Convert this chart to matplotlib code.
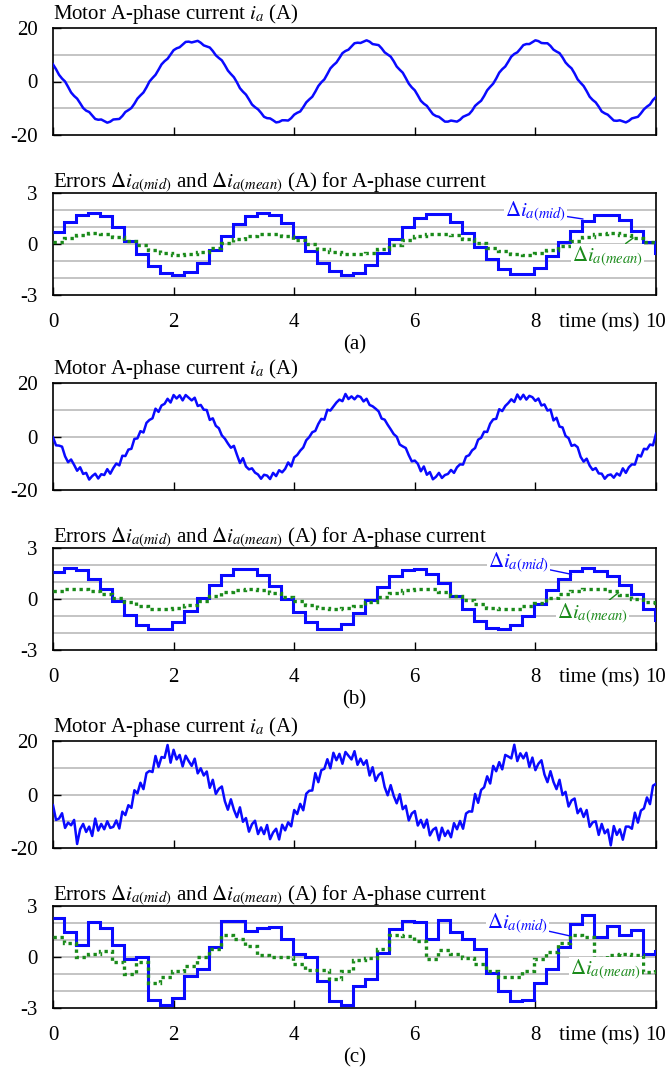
import numpy as np
import matplotlib
matplotlib.use('Agg')
import matplotlib.pyplot as plt

# corriente de fase A (A), una muestra cada 0.05 ms de 0 a 10 ms
corriente_a = [
    6.4, 4.6, 2.5, 1.1, 0.0, -2.0, -4.1, -5.4, -6.4, -8.1,
    -9.9, -10.9, -11.4, -12.7, -14.0, -14.3, -14.2, -14.8, -15.4, -15.0,
    -14.2, -14.1, -14.0, -12.9, -11.4, -10.7, -9.9, -8.3, -6.4, -5.2,
    -4.1, -2.2, 0.0, 1.3, 2.5, 4.4, 6.4, 7.6, 8.5, 10.1,
    11.7, 12.4, 12.8, 13.8, 14.8, 14.9, 14.6, 14.9, 15.2, 14.5,
    13.5, 13.1, 12.7, 11.4, 9.8, 8.8, 7.9, 6.1, 4.1, 2.8,
    1.6, -0.3, -2.5, -3.8, -4.9, -6.7, -8.6, -9.6, -10.4, -11.7,
    -13.2, -13.7, -13.8, -14.5, -15.3, -15.1, -14.5, -14.5, -14.6, -13.7,
    -12.4, -11.7, -11.2, -9.6, -7.8, -6.7, -5.7, -3.8, -1.7, -0.3,
    0.8, 2.8, 4.9, 6.1, 7.1, 8.8, 10.6, 11.4, 11.9, 13.1,
    14.3, 14.5, 14.4, 14.9, 15.4, 14.9, 14.0, 13.8, 13.6, 12.4,
    10.9, 10.1, 9.3, 7.6, 5.6, 4.4, 3.3, 1.3, -0.8, -2.2,
    -3.3, -5.2, -7.2, -8.3, -9.1, -10.7, -12.2, -12.9, -13.2, -14.1,
    -15.0, -15.0, -14.6, -14.8, -15.0, -14.3, -13.2, -12.7, -12.2, -10.9,
    -9.1, -8.1, -7.2, -5.4, -3.3, -2.0, -0.8, 1.1, 3.3, 4.6,
    5.6, 7.4, 9.3, 10.3, 10.9, 12.2, 13.6, 14.0, 14.0, 14.7,
    15.4, 15.1, 14.4, 14.3, 14.3, 13.3, 11.9, 11.2, 10.6, 9.0,
    7.1, 5.9, 4.9, 3.0, 0.8, -0.5, -1.7, -3.6, -5.7, -6.9,
    -7.8, -9.4, -11.2, -11.9, -12.4, -13.5, -14.6, -14.7, -14.5, -14.9,
    -15.3, -14.7, -13.8, -13.5, -13.2, -11.9, -10.4, -9.4, -8.6, -6.9,
    -5.8]

corriente_b = [
    -0.3, -3.3, -3.4, -3.8, -7.4, -9.6, -8.6, -10.6, -12.8, -11.5,
    -14.0, -13.6, -16.1, -14.8, -13.9, -15.7, -14.1, -14.4, -12.2, -13.9,
    -11.8, -10.1, -10.8, -7.2, -7.3, -4.9, -4.6, -0.9, -0.7, 2.0,
    1.5, 5.1, 6.2, 6.8, 10.4, 9.2, 11.6, 12.2, 14.1, 12.7,
    15.5, 14.2, 15.4, 13.5, 15.5, 14.5, 13.5, 14.5, 11.4, 11.8,
    10.0, 9.9, 6.2, 6.8, 4.0, 3.1, 0.4,
    -0.8, -2.6, -4.2, -3.5, -6.8, -9.9, -8.1, -11.2, -12.3, -11.9,
    -13.5, -14.2, -15.8, -14.3, -14.6, -15.9, -13.6, -14.8, -12.6, -13.4,
    -12.1, -9.7, -11.2, -7.8, -6.9, -5.3, -4.1, -1.4, -0.2, 1.6,
    2.1, 4.7, 6.6, 6.3, 10.0, 9.7, 11.2, 12.7, 13.8, 13.2,
    15.9, 14.0, 15.0, 13.9, 15.2, 14.8, 13.1, 14.1, 11.8, 11.3,
    10.4, 9.4, 6.7, 6.3, 4.4, 2.7, 0.9,
    -0.1, -3.0, -3.7, -4.3, -7.0, -9.3, -9.0, -10.2, -13.0, -11.2,
    -14.3, -13.3, -16.0, -15.1, -13.6, -15.5, -14.4, -14.0, -12.5, -13.6,
    -11.5, -10.4, -10.5, -7.5, -7.0, -5.2, -4.3, -1.2, -0.5, 1.8,
    1.7, 4.8, 6.4, 6.6, 10.2, 9.5, 11.4, 12.5, 13.9, 12.9,
    15.7, 13.9, 15.6, 13.8, 15.2, 14.7, 13.3, 14.2, 11.6, 12.0,
    9.7, 10.1, 6.0, 7.0, 3.7, 3.4, 0.2,
    -0.6, -3.5, -3.1, -4.0, -7.6, -9.4, -8.3, -10.9, -12.5, -11.8,
    -13.8, -13.9, -15.8, -14.5, -14.2, -15.4, -13.8, -14.6, -11.9, -13.6,
    -11.5, -10.4, -10.5, -6.9, -7.5, -4.6, -4.8, -3.0, -3.3, 1.0]

corriente_c = [
    -4.0, -9.5, -9.0, -7.0, -12.5, -10.5, -11.5, -9.5, -18.5, -13.0,
    -11.0, -14.0, -12.0, -15.5, -9.0, -13.5, -11.0, -13.0, -10.0, -12.5,
    -12.1, -9.7, -12.7, -6.4, -7.7, -4.0, -5.0, 1.6, 0.4, 4.4,
    2.0, 8.0, 8.8, 8.4, 14.4, 10.3, 14.0, 13.7, 18.5, 11.9,
    16.7, 13.1, 14.8, 10.5, 14.5, 12.5, 10.7, 13.4, 7.9, 9.8,
    7.1, 8.6, 2.5, 5.5, 0.2, 2.1, 3.0, -2.5, -5.7, -1.8,
    -5.7, -8.5, -4.8, -10.2, -8.8, -13.9, -11.1, -9.8, -14.8, -12.3,
    -14.8, -11.4, -16.7, -14.2, -12.8, -16.8, -11.3, -13.4, -10.4, -11.9,
    -5.8, -7.3, -3.5, -5.9, 0.3, 1.4, 1.5, 8.0, 4.6, 9.1,
    9.6, 13.2, 9.8, 15.6, 12.8, 15.2, 11.5, 15.9, 14.5, 13.1,
    16.2, 11.1, 13.4, 11.1, 12.8, 7.1, 10.2, 5.1, 7.3, 8.2,
    2.8, -0.3, 3.5, -0.5, -3.3, 0.1, -5.5, -4.2, -9.7, -7.1,
    -6.2, -11.6, -9.5, -12.4, -9.4, -15.3, -13.2, -12.4, -17.1, -12.4,
    -15.5, -13.5, -16.0, -10.7, -13.0, -9.9, -12.8, -7.1, -6.3, -6.4,
    0.2, -3.1, 1.7, 2.7, 6.8, 4.1, 10.7, 8.7, 12.1, 9.4,
    14.8, 14.2, 13.5, 18.6, 12.5, 15.4, 13.5, 15.6, 10.3, 13.8,
    9.1, 11.5, 12.8, 7.5, 4.6, 8.7, 4.7, 2.0, 5.5, -0.2,
    1.0, -4.5, -2.2, -1.5, -7.0, -5.3, -8.4, -5.8, -12.1, -10.4,
    -10.0, -15.1, -11.0, -14.5, -13.1, -19.0, -11.8, -15.1, -13.0, -16.9,
    -12.0, -12.0, -12.8, -6.8, -10.5, -6.0, -5.2, -1.1, -3.6, 3.3,
    4.0]

# errores por escalones (A); primer escalon 0-0.18 ms, luego cada 0.2 ms
dmid_a = [
    0.70, 1.32, 1.70, 1.80, 1.62, 1.00, 0.20, -0.58, -1.28, -1.72,
    -1.80, -1.62, -1.10, -0.35, 0.45, 1.15, 1.62, 1.80, 1.72, 1.25,
    0.42, -0.40, -1.10, -1.60, -1.80, -1.70, -1.25, -0.52, 0.28, 1.00,
    1.55, 1.78, 1.75, 1.30, 0.62, -0.15, -0.90, -1.48, -1.78, -1.78,
    -1.40, -0.72, 0.10, 0.77, 1.35, 1.73, 1.73, 1.40, 0.78, 0.12,
    -0.50]
dmean_a = [
    0.12, 0.36, 0.54, 0.62, 0.58, 0.43, 0.19, -0.08, -0.33, -0.52,
    -0.62, -0.59, -0.45, -0.23, 0.04, 0.30, 0.50, 0.61, 0.60, 0.47,
    0.26, -0.01, -0.27, -0.48, -0.60, -0.61, -0.50, -0.29, -0.03, 0.24,
    0.46, 0.59, 0.61, 0.52, 0.32, 0.06, -0.21, -0.44, -0.58, -0.62,
    -0.53, -0.35, -0.10, 0.18, 0.41, 0.57, 0.62, 0.55, 0.38, 0.13,
    0.05]
dmid_b = [
    1.60, 1.80, 1.70, 1.15, 0.60, -0.10, -0.92, -1.50, -1.78, -1.74,
    -1.35, -0.72, 0.05, 0.80, 1.42, 1.75, 1.76, 1.40, 0.78, 0.02,
    -0.78, -1.38, -1.74, -1.78, -1.45, -0.85, -0.08, 0.70, 1.34, 1.70,
    1.78, 1.50, 0.92, 0.18, -0.60, -1.27, -1.68, -1.79, -1.55, -1.02,
    -0.27, 0.51, 1.20, 1.66, 1.80, 1.65, 1.35, 0.85, 0.30, -0.60,
    -1.25]
dmean_b = [
    0.50, 0.57, 0.59, 0.50, 0.31, 0.06, -0.20, -0.42, -0.56, -0.60,
    -0.52, -0.34, -0.09, 0.17, 0.40, 0.55, 0.60, 0.53, 0.36, 0.12,
    -0.14, -0.38, -0.54, -0.60, -0.55, -0.39, -0.16, 0.11, 0.35, 0.52,
    0.60, 0.56, 0.41, 0.19, -0.07, -0.32, -0.51, -0.60, -0.57, -0.44,
    -0.22, 0.04, 0.29, 0.49, 0.59, 0.58, 0.46, 0.25, 0.02, -0.20,
    -0.25]
dmid_c = [
    2.30, 1.50, 0.72, 2.08, 1.73, 0.72, -0.10, 0.00, -2.50, -2.80,
    -2.40, -1.10, -0.70, 0.60, 2.10, 2.10, 1.55, 1.70, 1.75, 1.05,
    0.20, 0.00, -1.40, -2.60, -2.85, -1.70, -1.30, 0.25, 1.65, 2.10,
    2.05, 1.05, 2.20, 1.45, 1.05, 0.45, -0.95, -2.00, -2.60, -2.55,
    -1.50, -0.70, 0.60, 1.95, 2.45, 1.20, 1.85, 1.30, 1.60, 0.20,
    0.35]
dmean_c = [
    1.15, 0.85, 0.00, 0.20, 0.35, -0.30, -1.00, -0.30, -1.50, -1.15,
    -0.80, -0.50, 0.00, 0.45, 1.30, 1.05, 0.65, 0.10, 0.00, 0.00,
    -0.40, -0.75, -0.75, -1.30, -0.80, -0.20, -0.05, 0.45, 1.30, 1.25,
    0.95, -0.10, 0.40, 0.20, -0.05, -0.40, -0.80, -1.20, -1.20, -0.80,
    -0.10, 0.30, 0.85, 1.30, 1.15, -0.05, 0.10, 0.15, 0.10, -0.90,
    -0.60]

ticks_tiempo = [0, 2, 4, 6, 8, 10]
etiquetas_tiempo = ['0', '2', '4', '6', '8', '10']
ticks_corriente = [-20, 0, 20]
ticks_error = [-3, 0, 3]
rejilla_corriente = [-10, 0, 10]
rejilla_error = [-2, -1, 0, 1, 2]
etiquetas_panel = ['(a)', '(b)', '(c)']
titulo_corriente = r'Motor A-phase current $i_a$ (A)'
titulo_error = r'Errors $\Delta i_{a(mid)}$ and $\Delta i_{a(mean)}$ (A) for A-phase current'
texto_mid = r'$\Delta i_{a(mid)}$'
texto_mean = r'$\Delta i_{a(mean)}$'

AZUL = '#0a0aff'
VERDE = '#1a8a1a'
GRIS = '#c4c4c4'
TAM = 15

# geometria en pixeles de la imagen (665 x 1068)
ANCHO, ALTO = 665.0, 1068.0
X_IZQ, X_DER = 53.0, 656.0


def Fn_caja(fig, y_arriba, y_abajo):
    return fig.add_axes([X_IZQ / ANCHO, 1 - y_abajo / ALTO,
                         (X_DER - X_IZQ) / ANCHO, (y_abajo - y_arriba) / ALTO])


def Fn_ejes(ax, ylim, yticks, rejilla):
    for y in rejilla:
        ax.axhline(y, color=GRIS, lw=1.4, zorder=1)
    ax.set_xlim(0, 10)
    ax.set_ylim(*ylim)
    ax.set_xticks(ticks_tiempo)
    ax.set_yticks(yticks)
    ax.set_yticklabels([str(v) for v in yticks])
    ax.tick_params(axis='both', direction='in', length=6, width=1.0,
                   labelsize=TAM, color='black')
    ax.tick_params(axis='y', pad=11)
    for lado in ax.spines.values():
        lado.set_linewidth(1.2)


def Fn_panel_corriente(ax, corriente):
    t = np.arange(len(corriente)) * 0.05
    Fn_ejes(ax, (-20, 20), ticks_corriente, rejilla_corriente)
    ax.plot(t, corriente, color=AZUL, lw=1.8, zorder=3)
    ax.tick_params(axis='x', labelbottom=False)


def Fn_panel_error(ax, dmid, dmean, pos_mid, pos_mean):
    bordes = np.concatenate([[0.0], np.arange(0.18, 10.0, 0.2), [10.0]])
    Fn_ejes(ax, (-3, 3), ticks_error, rejilla_error)
    ax.stairs(dmid, bordes, baseline=None, color=AZUL, lw=2.2, zorder=3)
    ax.stairs(dmean, bordes, baseline=None, color=VERDE, lw=2.4,
              linestyle=(0, (1, 1.1)), zorder=4)
    ax.set_xticklabels(etiquetas_tiempo)
    ax.tick_params(axis='x', pad=13)
    ax.annotate('time (ms)', xy=(9.05, 0), xycoords=('data', 'axes fraction'),
                xytext=(0, -13), textcoords='offset points',
                ha='center', va='top', fontsize=TAM)

    # etiquetas con linea guia
    caja = dict(boxstyle='square,pad=0.05', fc='white', ec='none')
    ax.annotate(texto_mid, xy=pos_mid[1], xytext=pos_mid[0], color=AZUL,
                fontsize=TAM, ha='center', va='center', bbox=caja, zorder=6,
                arrowprops=dict(arrowstyle='-', color=AZUL, lw=1.0,
                                shrinkA=0, shrinkB=0))
    ax.annotate(texto_mean, xy=pos_mean[1], xytext=pos_mean[0], color=VERDE,
                fontsize=TAM, ha='center', va='center', bbox=caja, zorder=6,
                arrowprops=dict(arrowstyle='-', color=VERDE, lw=1.0,
                                shrinkA=0, shrinkB=0))


def Main():
    plt.rcParams['font.family'] = ['Liberation Serif', 'DejaVu Serif']
    plt.rcParams['mathtext.fontset'] = 'stix'
    plt.rcParams['axes.unicode_minus'] = False

    fig = plt.figure(figsize=(6.65, 10.68), dpi=100)

    corrientes = [corriente_a, corriente_b, corriente_c]
    errores = [(dmid_a, dmean_a), (dmid_b, dmean_b), (dmid_c, dmean_c)]
    # posiciones de las etiquetas (texto, punto de la guia)
    guias_mid = [((8.0, 1.9), (8.79, 1.47)),
                 ((7.72, 2.1), (8.60, 1.45)),
                 ((7.7, 1.93), (8.56, 1.25))]
    guias_mean = [((9.2, -0.75), (9.62, 0.35)),
                  ((8.95, -0.85), (9.38, 0.38)),
                  ((9.16, -0.75), (9.42, 0.15))]
    grupos = [0, 355, 713]

    for i, g in enumerate(grupos):
        ax1 = Fn_caja(fig, g + 28, g + 135)
        Fn_panel_corriente(ax1, corrientes[i])
        fig.text(X_IZQ / ANCHO, 1 - (g + 19) / ALTO, titulo_corriente,
                 ha='left', va='baseline', fontsize=TAM)

        ax2 = Fn_caja(fig, g + 193, g + 295)
        Fn_panel_error(ax2, errores[i][0], errores[i][1], guias_mid[i], guias_mean[i])
        fig.text(X_IZQ / ANCHO, 1 - (g + 188) / ALTO, titulo_error,
                 ha='left', va='baseline', fontsize=TAM)

        fig.text((X_IZQ + X_DER) / 2 / ANCHO, 1 - (g + 345) / ALTO, etiquetas_panel[i],
                 ha='center', va='center', fontsize=TAM)

    fig.savefig('out.png', dpi=100)


if __name__ == '__main__':
    Main()
